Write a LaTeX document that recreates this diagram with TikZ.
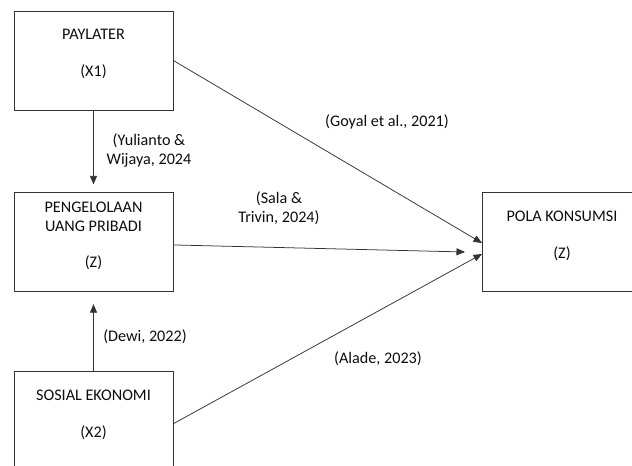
\documentclass[tikz,border=0pt]{standalone}
\usepackage{fontspec}
\setmainfont{Carlito}
\usetikzlibrary{arrows}
\usetikzlibrary{positioning}

\begin{document}
\begin{tikzpicture}[x=0.03cm,y=-0.03cm]
\tikzstyle{var} = [rectangle, minimum width=4.77cm, minimum height=2.97cm, draw=black!80, line width=0.65pt, align=center, text=black!95, font=\fontsize{13.8}{16.2}\selectfont, text depth=0.45cm]
\tikzstyle{cite} = [align=center, text=black!95, font=\fontsize{13.8}{16.2}\selectfont]
\tikzstyle{arrow} = [draw=black!80, line width=0.65pt, ->, >=triangle 45]

\clip (0,0) rectangle (632,465);

\node (pay) [var] at (93.5,60.5) {PAYLATER\\[15pt](X1)};
\node (peng) [var, below=2.46cm of pay] {PENGELOLAAN\\UANG PRIBADI\\[15pt](Z)};
\node (sos) [var, below=2.37cm of peng] {SOSIAL EKONOMI\\[15pt](X2)};
\node (pola) [var] at (562,242) {POLA KONSUMSI\\[15pt](Z)};

% ends of the three arrows into pola
\coordinate (in1) at (482,243);
\coordinate (in2) at (465,252);
\coordinate (in3) at (482,254);

\draw [arrow, shorten >=0.24cm] (pay) -- (peng);
\draw [arrow, shorten >=0.36cm] (sos) -- (peng);

\draw [arrow] (pay.east) -- (in1);
\draw [arrow] ([yshift=-0.08cm]peng.east) -- (in2);
\draw [arrow] ([yshift=-0.08cm]sos.east) -- (in3);

\node (c1) [cite] at (149,150) {(Yulianto \&\\Wijaya, 2024};
\node (c2) [cite] at (145,337) {(Dewi, 2022)};
\node (c3) [cite] at (387,122) {(Goyal et al., 2021)};
\node (c4) [cite] at (279,208) {(Sala \&\\Trivin, 2024)};
\node (c5) [cite] at (378,359) {(Alade, 2023)};

\end{tikzpicture}
\end{document}
